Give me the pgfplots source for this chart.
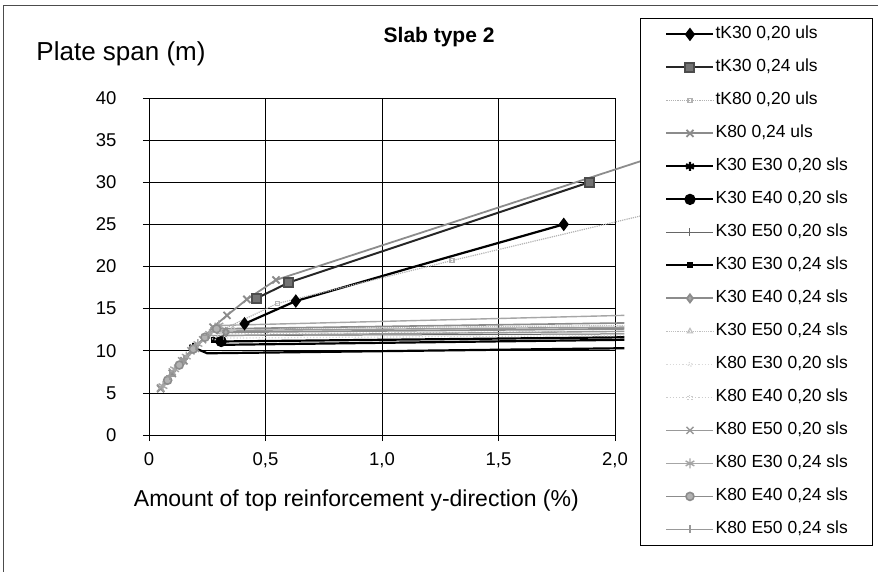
\documentclass[border=0pt]{standalone}
\usepackage{fontspec}
\setmainfont{Liberation Sans}
\usepackage{pgfplots}
\pgfplotsset{compat=1.18}

\begin{document}
\begin{tikzpicture}
\useasboundingbox (0,0) rectangle (878bp,572bp);
\draw[black!70, line width=0.8bp] (3bp,0) -- (3bp,567bp) -- (878bp,567bp);
\begin{axis}[
  at={(149bp,137bp)}, anchor=south west,
  scale only axis, width=466bp, height=337bp,
  xmin=0, xmax=2, ymin=0, ymax=40,
  clip=false,
  xtick={0,0.5,1,1.5,2},
  xticklabels={0,{0,5},{1,0},{1,5},{2,0}},
  ytick={0,5,...,40},
  grid=major,
  major grid style={black, line width=0.6bp},
  axis line style={black, line width=0.8bp},
  tick align=outside, tick pos=left,
  major tick length=6bp,
  tick style={black, line width=0.6bp},
  /pgf/number format/assume math mode=true,
  ticklabel style={font=\fontsize{18.5bp}{20bp}\selectfont},
  yticklabel style={xshift=-23bp},
  xticklabel style={yshift=-8bp},
  xlabel={Amount of top reinforcement y-direction (\%)},
  xlabel style={font=\fontsize{23bp}{25bp}\selectfont, anchor=base,
    at={(rel axis cs:0.445,-0.2136)}},
  ylabel={Plate span (m)},
  ylabel style={font=\fontsize{26bp}{28bp}\selectfont, rotate=-90, anchor=base west,
    at={(rel axis cs:-0.249,1.11)}},
  title={Slab type 2},
  title style={font=\bfseries\fontsize{21bp}{23bp}\selectfont, anchor=base west,
    at={(rel axis cs:0.496,1.148)}},
  legend style={at={(rel axis cs:1.0536,1.2374)}, anchor=north west,
    draw=black, line width=0.8bp, fill=white,
    inner xsep=25bp, inner ysep=8.5bp, row sep=18bp, column sep=1bp,
    font=\fontsize{17.5bp}{19bp}\selectfont,
    nodes={text height=12bp, text depth=3bp, inner sep=0pt}},
  legend cell align=left,
  legend image code/.code={
    \draw[#1, mark=none] (0bp,0bp) -- (47bp,0bp);
    \draw[#1, mark indices={1}] plot coordinates {(23.5bp,0bp)};},
]
% tK30 0,20 uls
\addplot[black, line width=2.2bp, mark=diamond*, mark size=5bp, mark indices={1,2,4}]
  coordinates {(0.41,13.2) (0.63,15.9) (1.13,19.9) (1.78,25.0)};
% tK30 0,24 uls
\addplot[black!85, line width=2bp, mark=square*, mark size=4.5bp,
  mark options={fill=black!55, draw=black!70}]
  coordinates {(0.46,16.2) (0.60,18.1) (1.89,30.0)};
% tK80 0,20 uls
\addplot[black!30, line width=1.2bp, densely dotted, mark=square, mark size=2bp,
  mark options={solid}, mark indices={1,2,3}]
  coordinates {(0.30,12.3) (0.55,15.6) (1.30,20.7) (2.11,26.0)};
% K80 0,24 uls
\addplot[black!45, line width=1.8bp, mark=x, mark size=5bp, mark indices={1,2,3,4,5,6,7,8}]
  coordinates {(0.05,5.5) (0.10,7.3) (0.15,8.8) (0.20,10.3) (0.275,12.8) (0.335,14.2)
    (0.42,16.1) (0.545,18.4) (2.11,32.5)};
% K30 E30 0,20 sls
\addplot[black, line width=2.2bp, mark=asterisk, mark size=4.5bp, mark indices={1}]
  coordinates {(0.19,10.4) (0.25,9.7) (2.04,10.3)};
% K30 E40 0,20 sls
\addplot[black, line width=2.2bp, mark=*, mark size=4.5bp, mark indices={1}]
  coordinates {(0.31,11.1) (2.04,11.6)};
% K30 E50 0,20 sls
\addplot[black!60, line width=1bp, mark=+, mark size=4bp, mark indices={1}]
  coordinates {(0.32,11.8) (2.04,12.0)};
% K30 E30 0,24 sls
\addplot[black, line width=2.2bp, mark=square*, mark size=2bp, mark indices={1}]
  coordinates {(0.28,11.3) (0.30,10.7) (2.04,11.3)};
% K30 E40 0,24 sls
\addplot[black!45, line width=1.8bp, mark=diamond*, mark size=4bp,
  mark options={fill=black!35}, mark indices={1}]
  coordinates {(0.33,12.2) (2.04,12.6)};
% K30 E50 0,24 sls
\addplot[black!25, line width=1.2bp, densely dotted, mark=triangle, mark size=3bp,
  mark options={solid}, mark indices={1}]
  coordinates {(0.36,12.6) (2.04,13.0)};
% K80 E30 0,20 sls
\addplot[black!15, line width=1.2bp, dotted, mark=o, mark size=2bp, mark indices={1}]
  coordinates {(0.28,11.5) (2.04,11.8)};
% K80 E40 0,20 sls
\addplot[black!20, line width=1.2bp, dotted, mark=square, mark size=2bp, mark indices={1}]
  coordinates {(0.30,12.0) (2.04,12.3)};
% K80 E50 0,20 sls
\addplot[black!40, line width=1.4bp, mark=x, mark size=5bp, mark indices={1,2,3,4,5,6}]
  coordinates {(0.05,5.6) (0.10,7.5) (0.14,8.8) (0.18,10.0) (0.23,11.3) (0.28,12.4) (2.04,12.8)};
% K80 E30 0,24 sls
\addplot[black!35, line width=1.4bp, mark=asterisk, mark size=5bp, mark indices={1,2,3,4,5,6}]
  coordinates {(0.06,5.8) (0.11,7.8) (0.16,9.3) (0.21,10.8) (0.26,12.0) (0.30,13.0) (2.04,14.2)};
% K80 E40 0,24 sls
\addplot[black!45, line width=1.6bp, mark=*, mark size=4bp, mark options={fill=black!30},
  mark indices={1,2,3,4,5}]
  coordinates {(0.08,6.5) (0.13,8.3) (0.19,10.2) (0.24,11.6) (0.29,12.6) (2.04,13.3)};
% K80 E50 0,24 sls
\addplot[black!40, line width=1.4bp, mark=+, mark size=4bp, mark indices={1,2,3,4}]
  coordinates {(0.09,7.0) (0.15,9.0) (0.20,10.6) (0.25,11.8) (2.04,12.3)};
\legend{{tK30 0,20 uls}, {tK30 0,24 uls}, {tK80 0,20 uls}, {K80 0,24 uls},
  {K30 E30 0,20 sls}, {K30 E40 0,20 sls}, {K30 E50 0,20 sls}, {K30 E30 0,24 sls},
  {K30 E40 0,24 sls}, {K30 E50 0,24 sls}, {K80 E30 0,20 sls}, {K80 E40 0,20 sls},
  {K80 E50 0,20 sls}, {K80 E30 0,24 sls}, {K80 E40 0,24 sls}, {K80 E50 0,24 sls}}
\end{axis}
\end{tikzpicture}
\end{document}
